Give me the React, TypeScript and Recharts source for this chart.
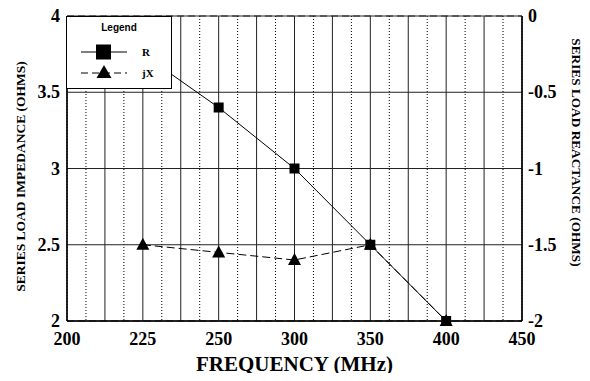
import React from 'react';
import { LineChart, Line, XAxis, YAxis, CartesianGrid } from 'recharts';

const categories = ['200', '225', '250', '300', '350', '400', '450'];
const rValues: (number | null)[] = [null, 3.75, 3.4, 3.0, 2.5, 2.0, null];
const jxValues: (number | null)[] = [null, -1.5, -1.55, -1.6, -1.5, -2.0, null];
const leftTicks = [2, 2.5, 3, 3.5, 4];
const rightTicks = [-2, -1.5, -1, -0.5, 0];
const leftMinorTicks = [2.25, 2.75, 3.25, 3.75];

const data = categories.map((c, i) => ({ idx: i, label: c, R: rValues[i], jX: jxValues[i] }));
const catTicks = categories.map((_, i) => i);
const majorV: number[] = [];
for (let i = 0; i <= (categories.length - 1) * 2; i++) majorV.push(i * 0.5);
const minorV: number[] = [];
for (let i = 0; i < (categories.length - 1) * 2; i++) minorV.push(i * 0.5 + 0.25);

const SERIF = '"Liberation Serif", "Times New Roman", serif';
const SANS = '"Liberation Sans", Arial, sans-serif';
const tickFont = { fontFamily: SERIF, fontWeight: 700, fontSize: 18 };

const SquareDot = (props: any) => {
  const { cx, cy, payload } = props;
  if (cx == null || cy == null || payload?.R == null) return null;
  return <rect x={cx - 5} y={cy - 5} width={10} height={10} fill="#000" />;
};

const TriDot = (props: any) => {
  const { cx, cy, payload } = props;
  if (cx == null || cy == null || payload?.jX == null) return null;
  return <path d={`M${cx},${cy - 7} L${cx + 6.5},${cy + 5} L${cx - 6.5},${cy + 5} Z`} fill="#000" />;
};

const XTick = (props: any) => {
  const { x, y, payload } = props;
  return (
    <text x={x} y={y} dy={13} textAnchor="middle" fill="#000" style={tickFont}>
      {categories[payload.value]}
    </text>
  );
};

const LeftTick = (props: any) => {
  const { x, y, payload } = props;
  return (
    <text x={x + 1} y={y} dy={6} textAnchor="end" fill="#000" style={tickFont}>
      {String(payload.value)}
    </text>
  );
};

const RightTick = (props: any) => {
  const { x, y, payload } = props;
  return (
    <text x={x} y={y} dy={6} textAnchor="start" fill="#000" style={tickFont}>
      {String(payload.value)}
    </text>
  );
};

const LegendBox = () => (
  <svg width={106} height={73} style={{ display: 'block' }}>
    <rect x={0.5} y={0.5} width={105} height={72} fill="#fff" stroke="#000" strokeWidth={1} />
    <text x={53} y={15} textAnchor="middle" style={{ fontFamily: SANS, fontWeight: 700, fontSize: 10 }} fill="#000">Legend</text>
    <line x1={15} x2={61} y1={36} y2={36} stroke="#000" />
    <rect x={30} y={28.5} width={15} height={15} fill="#000" />
    <text x={76} y={40} style={{ fontFamily: SERIF, fontWeight: 700, fontSize: 11 }} fill="#000">R</text>
    <line x1={15} x2={61} y1={57} y2={57} stroke="#000" strokeDasharray="7 4" />
    <path d="M38,49 L45.5,62 L30.5,62 Z" fill="#000" />
    <text x={76} y={61} style={{ fontFamily: SERIF, fontWeight: 700, fontSize: 11 }} fill="#000">jX</text>
  </svg>
);

const LeftTitle = (props: any) => {
  const vb = props.viewBox || {};
  const cx = 20;
  const cy = vb.y + vb.height / 2 + 8;
  return (
    <text x={cx} y={cy} transform={`rotate(-90 ${cx} ${cy})`} textAnchor="middle" dominantBaseline="central"
      style={{ fontFamily: SERIF, fontWeight: 700, fontSize: 13.5 }} fill="#000">
      SERIES LOAD IMPEDANCE (OHMS)
    </text>
  );
};

const RightTitle = (props: any) => {
  const vb = props.viewBox || {};
  const cx = 576;
  const cy = vb.y + vb.height / 2 - 16;
  return (
    <text x={cx} y={cy} transform={`rotate(90 ${cx} ${cy})`} textAnchor="middle" dominantBaseline="central"
      style={{ fontFamily: SERIF, fontWeight: 700, fontSize: 13.3 }} fill="#000">
      SERIES LOAD REACTANCE (OHMS)
    </text>
  );
};

const BottomTitle = (props: any) => {
  const vb = props.viewBox || {};
  const cx = vb.x + vb.width / 2;
  return (
    <text x={cx} y={371} textAnchor="middle" style={{ fontFamily: SERIF, fontWeight: 700, fontSize: 21 }} fill="#000">
      FREQUENCY (MHz)
    </text>
  );
};

export default function App() {
  return (
    <div style={{ margin: -8, width: 590, height: 381, background: '#fff', position: 'relative' }}>
      <LineChart width={590} height={381} data={data} margin={{ top: 16, right: 0, left: 0, bottom: 0 }}>
        <XAxis xAxisId="major" type="number" dataKey="idx" domain={[0, 6]} ticks={majorV} hide />
        <XAxis xAxisId="minor" type="number" dataKey="idx" domain={[0, 6]} ticks={minorV} hide />
        <YAxis yAxisId="minorY" type="number" domain={[2, 4]} ticks={leftMinorTicks} hide />
        <CartesianGrid xAxisId="minor" yAxisId="minorY" horizontal={false} stroke="#000" strokeDasharray="1 2" />
        <CartesianGrid xAxisId="minor" yAxisId="minorY" vertical={false} stroke="#222" strokeDasharray="7 4" />
        <CartesianGrid xAxisId="major" yAxisId="left" stroke="#222" />
        <XAxis
          xAxisId="main"
          type="number"
          dataKey="idx"
          domain={[0, 6]}
          ticks={catTicks}
          height={60}
          interval={0}
          tick={<XTick />}
          tickLine={false}
          tickMargin={5}
          axisLine={{ stroke: '#000', strokeWidth: 1.5 }}
          label={<BottomTitle />}
        />
        <YAxis
          yAxisId="left"
          type="number"
          domain={[2, 4]}
          ticks={leftTicks}
          width={67}
          tick={<LeftTick />}
          tickLine={false}
          axisLine={{ stroke: '#000', strokeWidth: 1.5 }}
          label={<LeftTitle />}
        />
        <YAxis
          yAxisId="right"
          orientation="right"
          type="number"
          domain={[-2, 0]}
          ticks={rightTicks}
          width={68}
          tick={<RightTick />}
          tickLine={false}
          tickMargin={0}
          axisLine={{ stroke: '#000', strokeWidth: 1.5 }}
          label={<RightTitle />}
        />
        <Line xAxisId="main" yAxisId="left" dataKey="R" stroke="#000" strokeWidth={1} dot={<SquareDot />} activeDot={false} isAnimationActive={false} connectNulls={false} />
        <Line xAxisId="main" yAxisId="right" dataKey="jX" stroke="#000" strokeWidth={1} strokeDasharray="8 4" dot={<TriDot />} activeDot={false} isAnimationActive={false} connectNulls={false} />
      </LineChart>
      <div style={{ position: 'absolute', left: 66, top: 16 }}>
        <LegendBox />
      </div>
    </div>
  );
}
